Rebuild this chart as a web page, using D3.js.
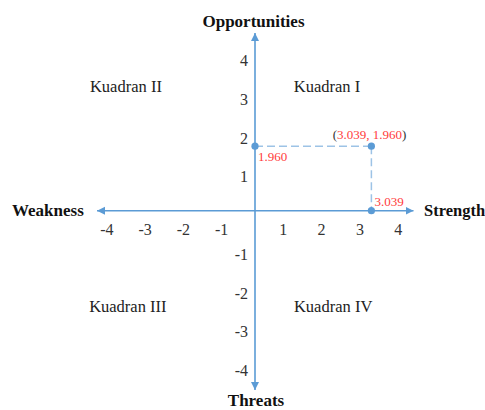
<!DOCTYPE html>
<html>
<head>
<meta charset="utf-8">
<script src="https://cdn.jsdelivr.net/npm/d3@7"></script>
<style>
  html, body { margin: 0; padding: 0; background: #fff; overflow: hidden; }
  svg { display: block; }
  text { font-family: "Liberation Serif", "Times New Roman", serif; }
</style>
</head>
<body>
<svg id="chart" width="485" height="410"></svg>
<script>
// ---- data ----
const xTicks = [-4, -3, -2, -1, 1, 2, 3, 4];
const yTicks = [-4, -3, -2, -1, 1, 2, 3, 4];
const pointX = 3.039;   // Strength score
const pointY = 1.960;   // Opportunities score
const axisTitles = ["Opportunities", "Threats", "Weakness", "Strength"];
const quadrantNames = ["Kuadran I", "Kuadran II", "Kuadran III", "Kuadran IV"];
const quadrantPos = [[1.88, 3.32], [-3.37, 3.32], [-3.32, -2.34], [2.04, -2.34]];

// ---- style ----
const axisColor = "#5b9bd5";
const dashColor = "#9dc3e6";
const red = "#ff3b3b";

const svg = d3.select("#chart");

// data scales (origin at the axis crossing)
const x = d3.scaleLinear().domain([-4, 4]).range([255 - 153.2, 255 + 153.2]);
const y = d3.scaleLinear().domain([-4, 4]).range([210.7 + 131.6, 210.7 - 131.6]);
// label placement scale for the vertical direction
const yLab = d3.scaleLinear().domain([-4, 4]).range([370.5, 60.5]);

const defs = svg.append("defs");
defs.append("marker").attr("id", "arrow")
  .attr("viewBox", "0 0 10 10").attr("refX", 10).attr("refY", 5)
  .attr("markerWidth", 8).attr("markerHeight", 9)
  .attr("markerUnits", "userSpaceOnUse")
  .attr("orient", "auto-start-reverse")
  .append("path").attr("d", "M0,0 L10,5 L0,10 Z").attr("fill", axisColor);

const x0 = x(0), y0 = y(0);

// dashed guide lines
svg.append("line")
  .attr("x1", x0).attr("y1", y(pointY)).attr("x2", x(pointX)).attr("y2", y(pointY))
  .attr("stroke", dashColor).attr("stroke-width", 1.5).attr("stroke-dasharray", "8,4");
svg.append("line")
  .attr("x1", x(pointX)).attr("y1", y(pointY)).attr("x2", x(pointX)).attr("y2", y0)
  .attr("stroke", dashColor).attr("stroke-width", 1.5).attr("stroke-dasharray", "8,4");

// axes
svg.append("line")
  .attr("x1", 97).attr("y1", y0).attr("x2", 413.5).attr("y2", y0)
  .attr("stroke", axisColor).attr("stroke-width", 1.6)
  .attr("marker-start", "url(#arrow)").attr("marker-end", "url(#arrow)");
svg.append("line")
  .attr("x1", x0).attr("y1", 33).attr("x2", x0).attr("y2", 390)
  .attr("stroke", axisColor).attr("stroke-width", 1.6)
  .attr("marker-start", "url(#arrow)").attr("marker-end", "url(#arrow)");

// tick labels
svg.selectAll("text.xt").data(xTicks).enter().append("text")
  .attr("class", "xt")
  .attr("x", d => x(d) + (d < 0 ? 5 : -10))
  .attr("y", 234.5)
  .attr("text-anchor", "middle").attr("font-size", 16).attr("fill", "#333")
  .text(d => d);
svg.selectAll("text.yt").data(yTicks).enter().append("text")
  .attr("class", "yt")
  .attr("x", 248)
  .attr("y", d => yLab(d) + 5.5)
  .attr("text-anchor", "end").attr("font-size", 16).attr("fill", "#333")
  .text(d => d);

// axis titles
const tPos = [[253.5, 27, "middle", 17], [256, 406, "middle", 17], [12, 215.5, "start", 17], [424, 215.5, "start", 16.5]];
svg.selectAll("text.title").data(axisTitles).enter().append("text")
  .attr("class", "title")
  .attr("x", (d, i) => tPos[i][0]).attr("y", (d, i) => tPos[i][1])
  .attr("text-anchor", (d, i) => tPos[i][2])
  .attr("font-size", (d, i) => tPos[i][3]).attr("font-weight", "bold").attr("fill", "#111")
  .text(d => d);

// quadrant labels
svg.selectAll("text.q").data(quadrantNames).enter().append("text")
  .attr("class", "q")
  .attr("x", (d, i) => x(quadrantPos[i][0]))
  .attr("y", (d, i) => yLab(quadrantPos[i][1]) + 5.5)
  .attr("text-anchor", "middle").attr("font-size", 16.5).attr("fill", "#222")
  .text(d => d);

// points
const pts = [[0, pointY], [pointX, pointY], [pointX, 0]];
svg.selectAll("circle").data(pts).enter().append("circle")
  .attr("cx", d => x(d[0])).attr("cy", d => y(d[1])).attr("r", 3.6)
  .attr("fill", axisColor);

// value labels
const fmt = d3.format(".3f");
svg.append("text").attr("x", x0 + 3).attr("y", y(pointY) + 15)
  .attr("font-size", 13).attr("fill", red).text(fmt(pointY));
svg.append("text").attr("x", x(pointX) + 3).attr("y", y0 - 5)
  .attr("font-size", 13).attr("fill", red).text(fmt(pointX));
const coord = svg.append("text").attr("x", x(pointX) + 35).attr("y", y(pointY) - 7.5)
  .attr("text-anchor", "end").attr("font-size", 13).attr("fill", "#333");
coord.append("tspan").text("(");
coord.append("tspan").attr("fill", red).text(fmt(pointX) + ", " + fmt(pointY));
coord.append("tspan").text(")");
</script>
</body>
</html>
